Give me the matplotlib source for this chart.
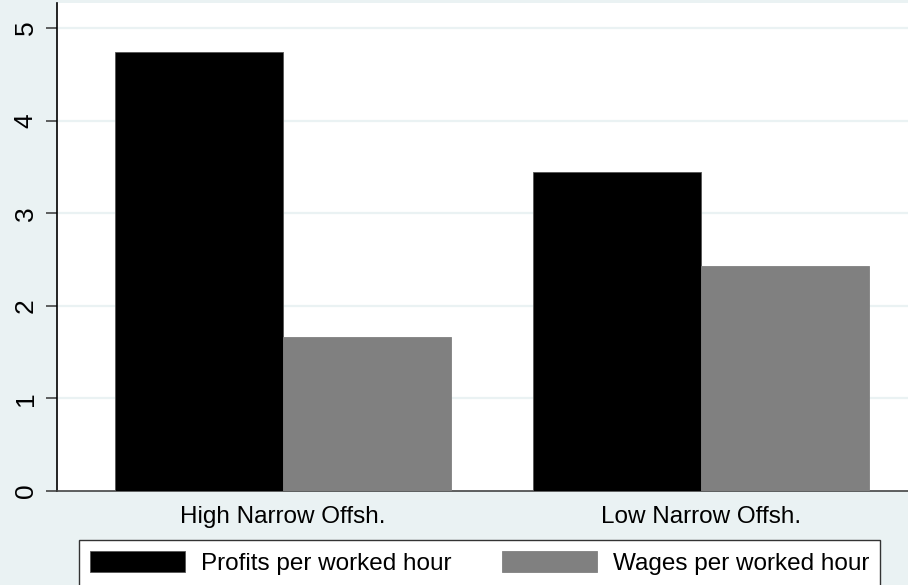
import matplotlib
matplotlib.use("Agg")
import matplotlib.pyplot as plt
import numpy as np

# data
groups = ["High Narrow Offsh.", "Low Narrow Offsh."]
profits = [4.74, 3.45]
wages = [1.66, 2.43]
series_names = ["Profits per worked hour", "Wages per worked hour"]
yticks = [0, 1, 2, 3, 4, 5]

plt.rcParams['font.family'] = ['Liberation Sans', 'DejaVu Sans']

W, H = 908, 585
bg = "#eaf2f3"
fig = plt.figure(figsize=(W / 100, H / 100), dpi=100, facecolor=bg)
ax = fig.add_axes([57 / W, 1 - 491 / H, (W - 57) / W, (491 - 3) / H])
ax.set_facecolor("white")

x = np.arange(len(groups))
bw = 0.402
ax.bar(x - bw / 2, profits, bw, color="black", edgecolor="#555555", linewidth=0.6,
       label=series_names[0], zorder=3)
ax.bar(x + bw / 2, wages, bw, color="#808080", edgecolor="#808080", linewidth=0.6,
       label=series_names[1], zorder=3)

ax.set_xlim(-0.541, 1.495)
ax.set_ylim(0, 5.27)
ax.set_yticks(yticks)
ax.set_yticklabels([str(t) for t in yticks], rotation=90, va="center", fontsize=19)
ax.set_xticks(x)
ax.set_xticklabels(groups, fontsize=17.5)
ax.tick_params(axis="x", length=0, pad=11)
ax.tick_params(axis="y", length=8, width=1.2, color="#444444", pad=6)

for t in yticks[1:]:
    ax.axhline(t, color=bg, linewidth=1.6, zorder=1)

for s in ["top", "right"]:
    ax.spines[s].set_visible(False)
ax.spines["left"].set_color("black")
ax.spines["left"].set_linewidth(1.2)
ax.spines["bottom"].set_color("#444444")
ax.spines["bottom"].set_linewidth(1.2)

leg = fig.legend(loc="upper left", bbox_to_anchor=(79 / W, 1 - 540 / H), ncol=2,
                 borderaxespad=0, fontsize=17.5, handlelength=3.9, handleheight=0.95,
                 handletextpad=0.66, columnspacing=2.1, borderpad=0.45,
                 fancybox=False, frameon=True, framealpha=1)
leg.get_frame().set_edgecolor("#333333")
leg.get_frame().set_linewidth(1.0)

fig.savefig("out.png", dpi=100, facecolor=bg)
